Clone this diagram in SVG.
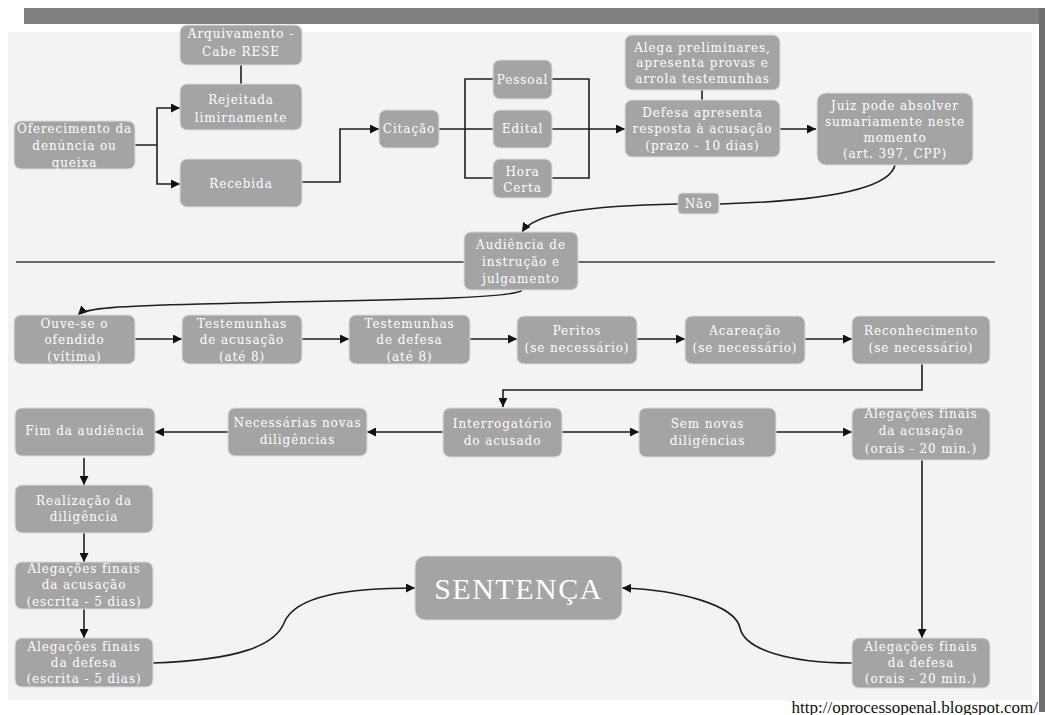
<svg xmlns="http://www.w3.org/2000/svg" width="1045" height="715" viewBox="0 0 1045 715">
<style>
.n rect{fill:#a4a4a4;stroke:#dcdcdc;stroke-width:1}
.n text{font-family:"DejaVu Serif","Liberation Serif",serif;font-size:12px;fill:#ffffff;text-anchor:middle;letter-spacing:0.9px}
.c path{fill:none;stroke:#1e1e1e;stroke-width:1.6}
.n text.big{font-family:"Liberation Serif","DejaVu Serif",serif;font-size:30px;letter-spacing:1.5px}
.url{font-family:"Liberation Serif","DejaVu Serif",serif;font-size:17px;fill:#111;text-anchor:end}
</style>
<defs>
<marker id="ah" markerUnits="userSpaceOnUse" markerWidth="9" markerHeight="9" refX="9" refY="4.5" orient="auto">
<path d="M0,0 L9,4.5 L0,9 z" fill="#111"/>
</marker>
</defs>
<rect x="0" y="0" width="1045" height="715" fill="#ffffff"/>
<rect x="8" y="32" width="1024" height="668" fill="#f3f3f3"/>
<rect x="24" y="8" width="1021" height="16" fill="#808080"/>
<rect x="1039" y="8" width="6" height="704" fill="#6e6e6e"/>
<line x1="16" y1="262" x2="995" y2="262" stroke="#3a3a3a" stroke-width="1.5"/>

<g class="c" id="connectors">
<path d="M241,65 V84"/>
<path d="M135,145 H157 V108 H180" marker-end="url(#ah)"/>
<path d="M157,145 V184 H180" marker-end="url(#ah)"/>
<path d="M302,182 H340 V129 H379" marker-end="url(#ah)"/>
<path d="M439,129 H493"/>
<path d="M465,129 V79 H493"/>
<path d="M465,129 V178 H493"/>
<path d="M552,79 H589 V178 H552"/>
<path d="M552,129 H625" marker-end="url(#ah)"/>
<path d="M702,90 V100"/>
<path d="M780,129 H816" marker-end="url(#ah)"/>
<path d="M895,165 C888,195 790,202 720,204"/>
<path d="M678,204 C590,206 535,212 522,232" marker-end="url(#ah)"/>
<path d="M522,290 C515,300 350,300 200,304 C120,306 85,308 78,315" marker-end="url(#ah)"/>
<path d="M135,339 H182" marker-end="url(#ah)"/>
<path d="M302,339 H349" marker-end="url(#ah)"/>
<path d="M470,339 H517" marker-end="url(#ah)"/>
<path d="M637,339 H685" marker-end="url(#ah)"/>
<path d="M805,339 H852" marker-end="url(#ah)"/>
<path d="M922,364 V390 H503 V407" marker-end="url(#ah)"/>
<path d="M443,432 H367" marker-end="url(#ah)"/>
<path d="M228,432 H155" marker-end="url(#ah)"/>
<path d="M562,432 H639" marker-end="url(#ah)"/>
<path d="M776,432 H852" marker-end="url(#ah)"/>
<path d="M922,460 V638" marker-end="url(#ah)"/>
<path d="M84,458 V485" marker-end="url(#ah)"/>
<path d="M84,533 V562" marker-end="url(#ah)"/>
<path d="M84,609 V638" marker-end="url(#ah)"/>
<path d="M153,663 C240,660 275,645 284,623 C295,595 350,588 415,588" marker-end="url(#ah)"/>
<path d="M852,663 C790,663 745,650 740,628 C735,605 680,590 622,588" marker-end="url(#ah)"/>
</g>

<g class="n" id="arquivamento"><rect x="180" y="25" width="122" height="40" rx="7"/><text x="241" y="38">Arquivamento -</text><text x="241" y="56">Cabe RESE</text></g>
<g class="n" id="rejeitada"><rect x="180" y="84" width="122" height="46" rx="7"/><text x="241" y="104">Rejeitada</text><text x="241" y="122">limirnamente</text></g>
<g class="n" id="oferecimento"><rect x="14" y="121" width="121" height="48" rx="7"/><text x="74.5" y="133">Oferecimento da</text><text x="74.5" y="150">denúncia ou</text><text x="74.5" y="167">queixa</text></g>
<g class="n" id="recebida"><rect x="180" y="159" width="122" height="48" rx="7"/><text x="241" y="188">Recebida</text></g>
<g class="n" id="citacao"><rect x="379" y="110" width="60" height="38" rx="7"/><text x="409" y="133">Citação</text></g>
<g class="n" id="pessoal"><rect x="493" y="60" width="59" height="39" rx="7"/><text x="522.5" y="84">Pessoal</text></g>
<g class="n" id="edital"><rect x="493" y="110" width="59" height="38" rx="7"/><text x="522.5" y="133">Edital</text></g>
<g class="n" id="horacerta"><rect x="493" y="159" width="59" height="39" rx="7"/><text x="522.5" y="176">Hora</text><text x="522.5" y="192">Certa</text></g>
<g class="n" id="alega"><rect x="625" y="35" width="155" height="55" rx="7"/><text x="702.5" y="52">Alega preliminares,</text><text x="702.5" y="67">apresenta provas e</text><text x="702.5" y="83">arrola testemunhas</text></g>
<g class="n" id="defesa"><rect x="625" y="100" width="155" height="57" rx="7"/><text x="702.5" y="117">Defesa apresenta</text><text x="702.5" y="133">resposta à acusação</text><text x="702.5" y="150">(prazo - 10 dias)</text></g>
<g class="n" id="juiz"><rect x="817" y="93" width="156" height="72" rx="9"/><text x="895" y="110">Juiz pode absolver</text><text x="895" y="126">sumariamente neste</text><text x="895" y="142">momento</text><text x="895" y="158">(art. 397, CPP)</text></g>
<g class="n" id="nao"><rect x="678" y="193" width="41" height="21" rx="4"/><text x="698.5" y="208">Não</text></g>
<g class="n" id="audiencia"><rect x="464" y="232" width="114" height="58" rx="7"/><text x="521" y="249">Audiência de</text><text x="521" y="266">instrução e</text><text x="521" y="283">julgamento</text></g>

<g class="n" id="ouvese"><rect x="14" y="315" width="121" height="49" rx="7"/><text x="74.5" y="328">Ouve-se o</text><text x="74.5" y="344">ofendido</text><text x="74.5" y="361">(vítima)</text></g>
<g class="n" id="testacusacao"><rect x="182" y="315" width="120" height="49" rx="7"/><text x="242" y="328">Testemunhas</text><text x="242" y="344">de acusação</text><text x="242" y="361">(até 8)</text></g>
<g class="n" id="testdefesa"><rect x="349" y="315" width="121" height="49" rx="7"/><text x="409.5" y="328">Testemunhas</text><text x="409.5" y="344">de defesa</text><text x="409.5" y="361">(até 8)</text></g>
<g class="n" id="peritos"><rect x="517" y="316" width="120" height="48" rx="7"/><text x="577" y="335">Peritos</text><text x="577" y="352">(se necessário)</text></g>
<g class="n" id="acareacao"><rect x="685" y="316" width="120" height="48" rx="7"/><text x="745" y="335">Acareação</text><text x="745" y="352">(se necessário)</text></g>
<g class="n" id="reconhecimento"><rect x="852" y="316" width="138" height="48" rx="7"/><text x="921" y="335">Reconhecimento</text><text x="921" y="352">(se necessário)</text></g>

<g class="n" id="fim"><rect x="15" y="408" width="140" height="48" rx="7"/><text x="85" y="435">Fim da audiência</text></g>
<g class="n" id="necessarias"><rect x="228" y="408" width="139" height="48" rx="7"/><text x="297.5" y="427">Necessárias novas</text><text x="297.5" y="444">diligências</text></g>
<g class="n" id="interrogatorio"><rect x="443" y="408" width="119" height="49" rx="7"/><text x="502.5" y="428">Interrogatório</text><text x="502.5" y="445">do acusado</text></g>
<g class="n" id="semnovas"><rect x="639" y="408" width="137" height="49" rx="7"/><text x="707.5" y="428">Sem novas</text><text x="707.5" y="445">diligências</text></g>
<g class="n" id="alegacusorais"><rect x="852" y="408" width="138" height="52" rx="7"/><text x="921" y="418">Alegações finais</text><text x="921" y="435">da acusação</text><text x="921" y="453">(orais - 20 min.)</text></g>
<g class="n" id="realizacao"><rect x="15" y="485" width="138" height="48" rx="7"/><text x="84" y="505">Realização da</text><text x="84" y="521">diligência</text></g>
<g class="n" id="alegacusescrita"><rect x="15" y="562" width="138" height="47" rx="7"/><text x="84" y="573">Alegações finais</text><text x="84" y="589">da acusação</text><text x="84" y="606">(escrita - 5 dias)</text></g>
<g class="n" id="alegdefescrita"><rect x="15" y="638" width="138" height="49" rx="7"/><text x="84" y="651">Alegações finais</text><text x="84" y="667">da defesa</text><text x="84" y="683">(escrita - 5 dias)</text></g>
<g class="n" id="alegdeforais"><rect x="852" y="638" width="138" height="50" rx="7"/><text x="921" y="651">Alegações finais</text><text x="921" y="667">da defesa</text><text x="921" y="683">(orais - 20 min.)</text></g>
<g class="n" id="sentenca"><rect x="415" y="556" width="207" height="64" rx="10"/><text class="big" x="518.5" y="599">SENTENÇA</text></g>

<text class="url" x="1038" y="713">http://oprocessopenal.blogspot.com/</text>
</svg>
